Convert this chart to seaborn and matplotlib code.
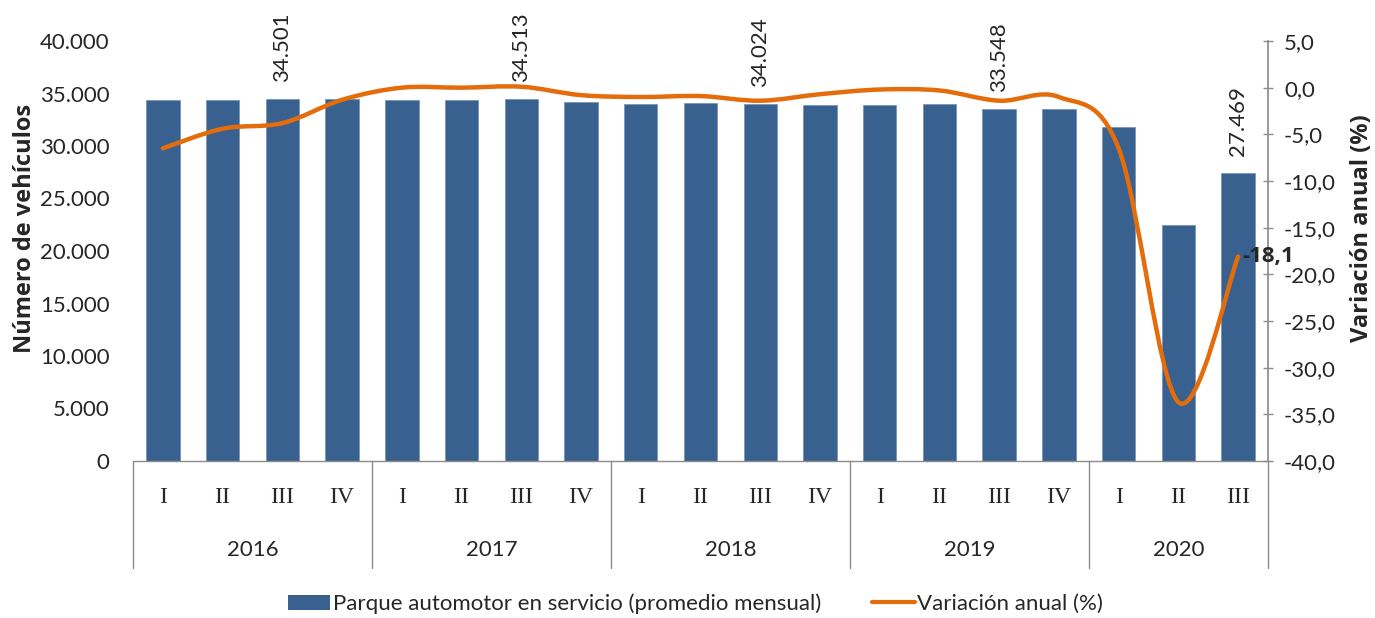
import numpy as np
import pandas as pd
import matplotlib

matplotlib.use("Agg")
import matplotlib.pyplot as plt
from matplotlib.path import Path
from matplotlib.patches import PathPatch
from matplotlib.lines import Line2D
from matplotlib.patches import Patch
import seaborn as sns

# Data
years = ["2016", "2017", "2018", "2019", "2020"]
quarters_per_year = [4, 4, 4, 4, 3]
quarter_names = ["I", "II", "III", "IV"]
vehiculos = [34380, 34370, 34501, 34450, 34350, 34360, 34513, 34200,
             34000, 34080, 34024, 33920, 33950, 33960, 33548, 33560,
             31780, 22460, 27469]
variacion = [-6.5, -4.4, -3.8, -1.3, 0.0, 0.0, 0.1, -0.8,
             -1.0, -0.9, -1.4, -0.7, -0.2, -0.3, -1.4, -1.0,
             -6.5, -33.7, -18.1]
labelled_bars = [2, 6, 10, 14, 18]

bar_color = "#38618f"
line_color = "#e46c0a"
axis_grey = "#8c8c8c"

sns.set_theme(style="white")
plt.rcParams["font.family"] = ["Lato", "DejaVu Sans"]

quarters = [quarter_names[q] for n in quarters_per_year for q in range(n)]
df = pd.DataFrame({"idx": range(len(vehiculos)), "vehiculos": vehiculos,
                   "variacion": variacion, "trimestre": quarters})

fig = plt.figure(figsize=(13.75, 6.18), dpi=100)
ax = fig.add_axes([133 / 1375, 1 - 461 / 618, (1268 - 133) / 1375, 420 / 618])

sns.barplot(data=df, x="idx", y="vehiculos", color=bar_color, width=0.56,
            saturation=1, ax=ax, edgecolor="#6f8fb5", linewidth=0.5)
ax.set_xlim(-0.5, len(vehiculos) - 0.5)
ax.set_ylim(0, 40000)
ax.set_yticks(range(0, 40001, 5000))
ax.set_yticklabels([f"{v:,}".replace(",", ".") for v in range(0, 40001, 5000)])
ax.tick_params(axis="y", length=0, pad=17, labelsize=16)
ax.set_xticks([])
ax.set_xlabel("")
ax.set_ylabel("")
for s in ["top", "left", "right"]:
    ax.spines[s].set_visible(False)
ax.spines["bottom"].set_color(axis_grey)
ax.spines["bottom"].set_linewidth(1)

# bar value labels
for i in labelled_bars:
    ax.annotate(f"{vehiculos[i]:,}".replace(",", "."), (i, vehiculos[i]),
                xytext=(0, 12), textcoords="offset points", rotation=90,
                ha="center", va="bottom", fontsize=16)

# hierarchical category axis
trans = ax.get_xaxis_transform()
for i, q in enumerate(quarters):
    ax.text(i, -0.086, q, transform=trans, ha="center", va="center",
            fontsize=17, family="Liberation Serif")
start = -0.5
seps = [start]
for y, n in zip(years, quarters_per_year):
    ax.text(start + n / 2, -0.212, y, transform=trans, ha="center",
            va="center", fontsize=16)
    start += n
    seps.append(start)
for s in seps:
    ax.plot([s, s], [0, -0.255], transform=trans, color=axis_grey,
            lw=1, clip_on=False)

# secondary axis: smoothed line
ax2 = ax.twinx()
ax2.set_ylim(-40, 5)
ax2.set_yticks(np.arange(-40, 5.1, 5))
ax2.set_yticklabels([f"{v:.1f}".replace(".", ",") for v in np.arange(-40, 5.1, 5)])
ax2.tick_params(axis="y", direction="inout", length=7, width=1,
                color=axis_grey, pad=8, labelsize=16)
for s in ["top", "left", "bottom"]:
    ax2.spines[s].set_visible(False)
ax2.spines["right"].set_color(axis_grey)
ax2.grid(False)

pts = np.column_stack([df["idx"].to_numpy(float), df["variacion"].to_numpy(float)])
verts = [pts[0]]
codes = [Path.MOVETO]
n = len(pts)
for i in range(n - 1):
    p0 = pts[i - 1] if i > 0 else pts[i]
    p1, p2 = pts[i], pts[i + 1]
    p3 = pts[i + 2] if i + 2 < n else pts[i + 1]
    verts += [p1 + (p2 - p0) / 6, p2 - (p3 - p1) / 6, p2]
    codes += [Path.CURVE4] * 3
ax2.add_patch(PathPatch(Path(verts, codes), facecolor="none",
                        edgecolor=line_color, lw=3.2, capstyle="round",
                        joinstyle="round"))
ax2.annotate(f"{variacion[-1]:.1f}".replace(".", ","), (n - 1, variacion[-1]),
             xytext=(3, 0), textcoords="offset points", ha="left",
             va="center", fontsize=16, fontweight="bold", family="Open Sans")

# axis titles
fig.text(25 / 1375, 1 - 228 / 618, "Número de vehículos", rotation=90,
         ha="center", va="center", fontsize=17, fontweight="bold",
         family="Open Sans")
fig.text(1362 / 1375, 1 - 228 / 618, "Variación anual (%)", rotation=90,
         ha="center", va="center", fontsize=17, fontweight="bold",
         family="Open Sans")

handles = [Patch(facecolor=bar_color, edgecolor="none"),
           Line2D([0], [0], color=line_color, lw=3)]
fig.legend(handles, ["Parque automotor en servicio (promedio mensual)",
                     "Variación anual (%)"],
           loc="center", bbox_to_anchor=(0.506, 0.023), ncol=2, frameon=False,
           fontsize=16, handlelength=1.9, handletextpad=0.12,
           columnspacing=2.3)

fig.savefig("out.png", dpi=100)
